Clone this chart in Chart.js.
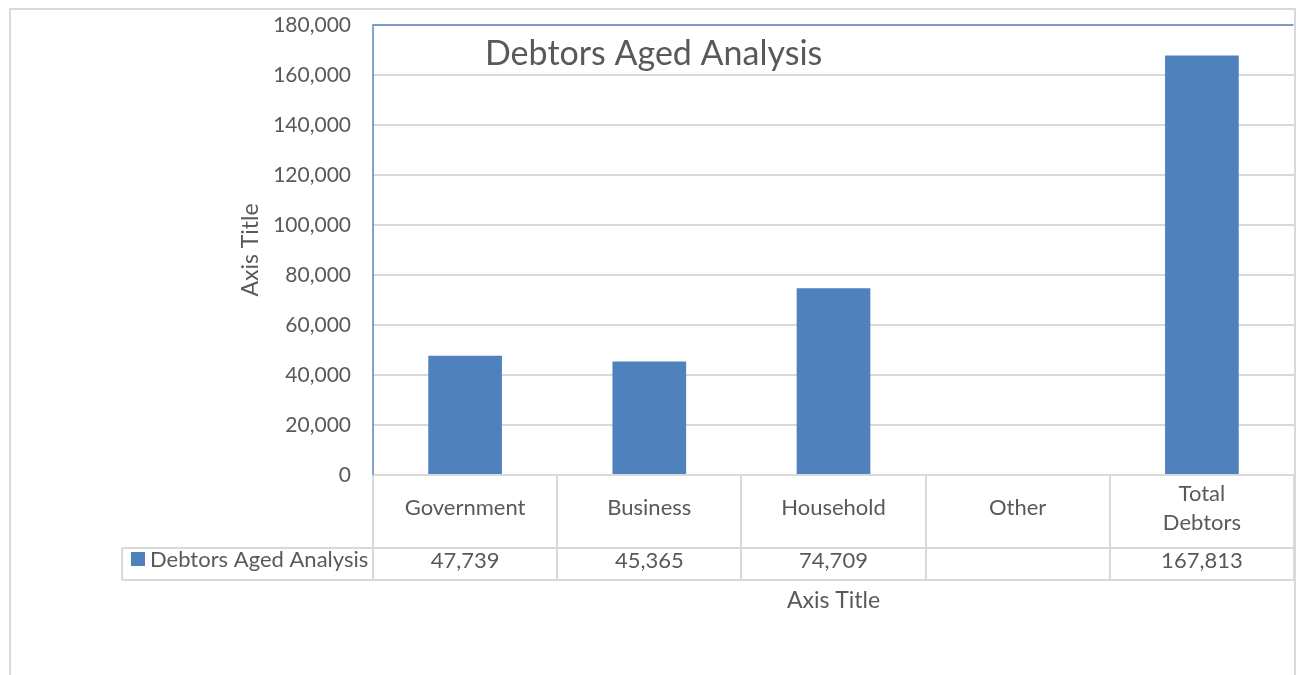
<!DOCTYPE html>
<html><head><meta charset="utf-8">
<script src="https://cdn.jsdelivr.net/npm/chart.js@4"></script>
<style>html,body{margin:0;padding:0;background:#fff;}#wrap{width:1300px;height:675px;position:relative;}</style>
</head><body><div id="wrap"><canvas id="c" width="1300" height="675"></canvas></div>
<script>
const categories = ["Government", "Business", "Household", "Other", ["Total", "Debtors"]];
const seriesName = "Debtors Aged Analysis";
const values = [47739, 45365, 74709, null, 167813];
const yTicks = [0, 20000, 40000, 60000, 80000, 100000, 120000, 140000, 160000, 180000];
const chartTitle = "Debtors Aged Analysis";
const xAxisTitle = "Axis Title";
const yAxisTitle = "Axis Title";

const FONT = "Lato, 'Open Sans', sans-serif";
const TXT = "#595959";
const GRID = "#d9d9d9";
const BAR = "#4f81bd";
const fmt = v => v.toLocaleString('en-US');

const tablePlugin = {
  id: 'tablePlugin',
  afterDraw(chart) {
    const ctx = chart.ctx, x = chart.scales.x, ca = chart.chartArea;
    ctx.save();
    // outer border
    ctx.strokeStyle = GRID; ctx.lineWidth = 2;
    ctx.beginPath();
    ctx.moveTo(10, 676); ctx.lineTo(10, 9); ctx.lineTo(1295, 9); ctx.lineTo(1295, 676);
    ctx.stroke();
    // table lines
    ctx.lineWidth = 2;
    const r1 = 548, r2 = 580;
    ctx.beginPath();
    ctx.moveTo(122, r1); ctx.lineTo(ca.right, r1);
    ctx.moveTo(122, r2); ctx.lineTo(ca.right, r2);
    ctx.moveTo(122, r1); ctx.lineTo(122, r2);
    ctx.stroke();
    // plot border (blue)
    ctx.strokeStyle = "#5a86c4"; ctx.lineWidth = 1.5;
    ctx.beginPath();
    ctx.moveTo(ca.left, ca.bottom); ctx.lineTo(ca.left, ca.top); ctx.lineTo(ca.right - 1, ca.top);
    ctx.stroke();
    // category labels & values
    ctx.fillStyle = TXT; ctx.textAlign = 'center'; ctx.textBaseline = 'middle';
    ctx.font = "22px " + FONT;
    categories.forEach((c, i) => {
      const px = x.getPixelForValue(i);
      const lines = Array.isArray(c) ? c : [c];
      const lh = 29, cy = 508;
      lines.forEach((ln, j) => {
        ctx.fillText(ln, px, cy + (j - (lines.length - 1) / 2) * lh);
      });
      if (values[i] !== null) ctx.fillText(fmt(values[i]), px, 561);
    });
    // legend cell
    ctx.fillStyle = BAR; ctx.fillRect(131, 552, 14, 14);
    ctx.fillStyle = TXT; ctx.textAlign = 'left';
    ctx.fillText(seriesName, 150, 560);
    // chart title
    ctx.font = "34px " + FONT;
    ctx.fillText(chartTitle, 485, 54);
    ctx.restore();
  }
};

new Chart(document.getElementById('c'), {
  type: 'bar',
  data: {
    labels: categories,
    datasets: [{ label: seriesName, data: values, backgroundColor: BAR, barPercentage: 0.4, categoryPercentage: 1.0 }]
  },
  options: {
    responsive: false, animation: false,
    layout: { padding: { left: 10, top: 25, right: 6, bottom: 0 } },
    plugins: { legend: { display: false }, tooltip: { enabled: false } },
    scales: {
      y: {
        min: 0, max: 180000,
        afterBuildTicks: s => { s.ticks = yTicks.map(v => ({ value: v })); },
        afterFit: s => { s.width = 363; s.paddingTop = 0; s.paddingBottom = 0; },
        ticks: { color: TXT, font: { family: FONT, size: 21 }, padding: 22, callback: v => fmt(v) },
        grid: { color: GRID, lineWidth: 2, drawTicks: false },
        border: { display: false },
        title: { display: true, text: yAxisTitle, color: TXT, font: { family: FONT, size: 23 }, padding: { top: 227, bottom: 0 } }
      },
      x: {
        afterFit: s => { s.height = 200; s.paddingLeft = 0; s.paddingRight = 0; },
        ticks: { display: false },
        grid: { offset: true, drawOnChartArea: false, drawTicks: true, tickLength: 105, color: GRID, lineWidth: 2 },
        border: { display: false },
        title: { display: true, text: xAxisTitle, color: TXT, font: { family: FONT, size: 23 }, padding: { top: 0, bottom: 61 } }
      }
    }
  },
  plugins: [tablePlugin]
});
</script></body></html>
